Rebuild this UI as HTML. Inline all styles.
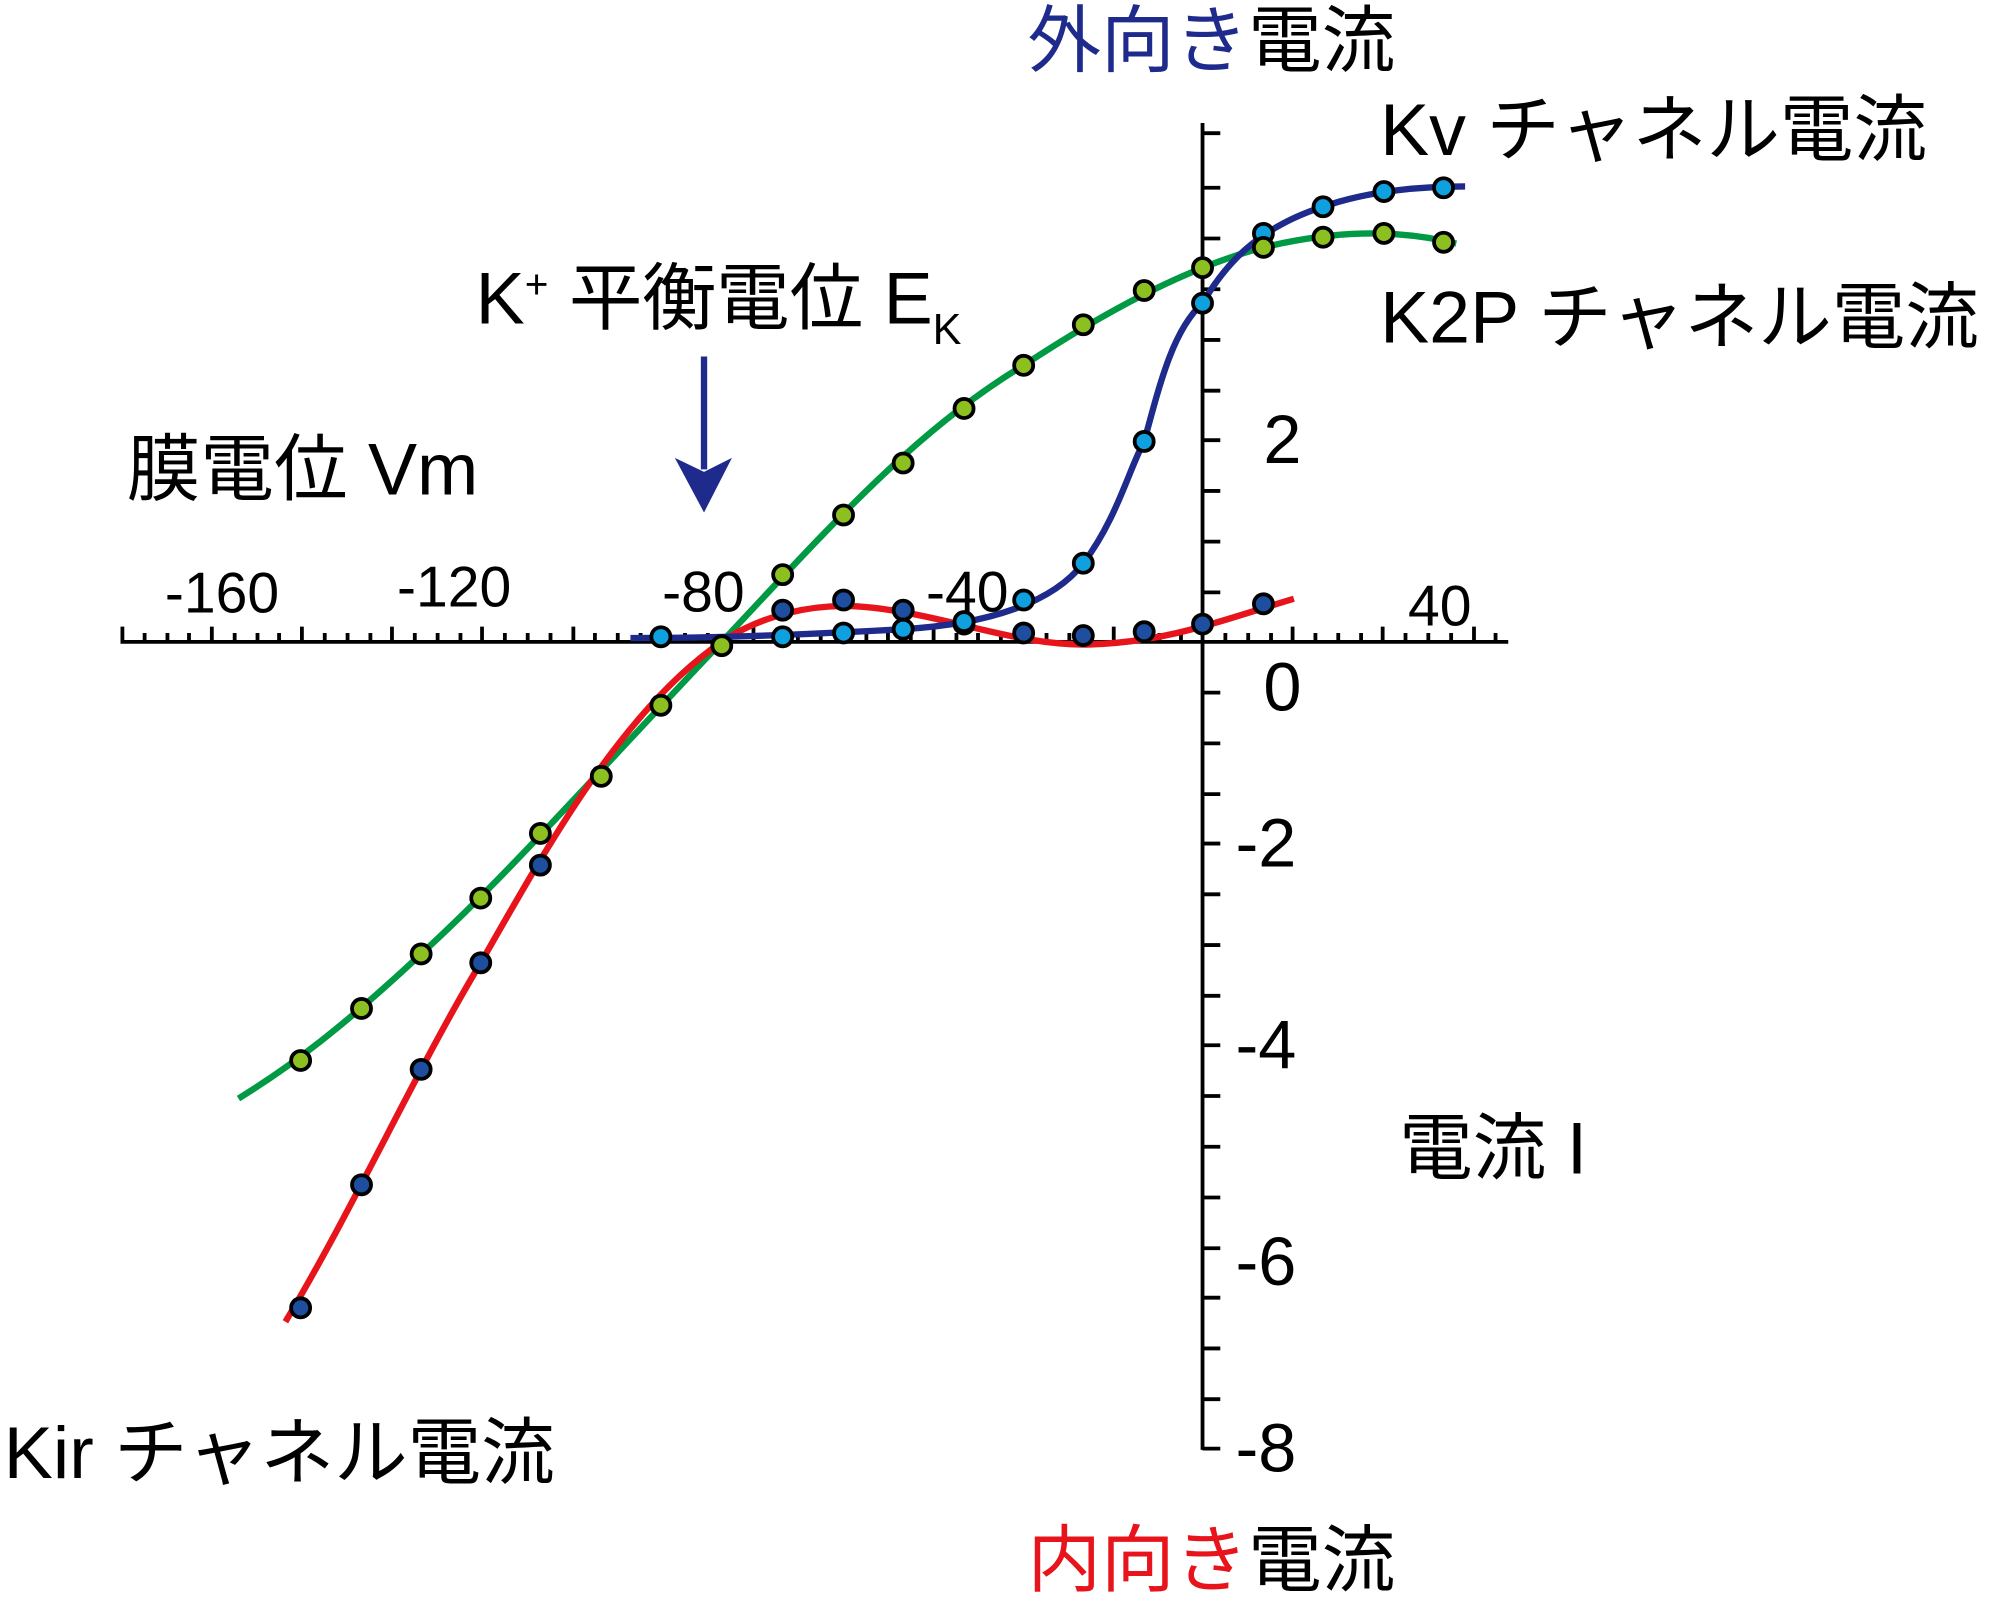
<!DOCTYPE html>
<html><head><meta charset="utf-8"><style>
html,body{margin:0;padding:0;background:#fff;}
svg{display:block;}
text{font-family:"Liberation Sans","Noto Sans CJK JP",sans-serif;}
</style></head><body>
<svg width="1989" height="1610" viewBox="0 0 1568 1269.2" preserveAspectRatio="none" xmlns="http://www.w3.org/2000/svg">
<g stroke="#000" stroke-width="3" fill="none">
<line x1="95" y1="506" x2="1189" y2="506"/>
<line x1="948" y1="97" x2="948" y2="1143"/>
<path d="M96.5 494V506 M114 499V506 M132 499V506 M149 499V506 M167 494V506 M185 499V506 M203 499V506 M220 499V506 M238 494V506 M256 499V506 M274 499V506 M292 499V506 M309 494V506 M327 499V506 M345 499V506 M363 499V506 M380 494V506 M398 499V506 M416 499V506 M434 499V506 M452 494V506 M469 499V506 M487 499V506 M505 499V506 M523 494V506 M540 499V506 M558 499V506 M576 499V506 M594 494V506 M612 499V506 M629 499V506 M647 499V506 M665 494V506 M683 499V506 M700 499V506 M718 499V506 M736 494V506 M754 499V506 M771 499V506 M789 499V506 M807 494V506 M825 499V506 M843 499V506 M860 499V506 M878 494V506 M896 499V506 M914 499V506 M931 499V506 M966 499V506 M984 499V506 M1002 499V506 M1019 494V506 M1037 499V506 M1055 499V506 M1073 499V506 M1090 494V506 M1108 499V506 M1126 499V506 M1144 499V506 M1162 494V506 M1179 499V506"/>
<path d="M948 105H962 M948 148H962 M948 188H962 M948 228H962 M948 268H962 M948 308H962 M948 347H962 M948 387H962 M948 427H962 M948 467H962 M948 546H962 M948 586H962 M948 626H962 M948 665H962 M948 705H962 M948 745H962 M948 785H962 M948 824H962 M948 864H962 M948 904H962 M948 944H962 M948 984H962 M948 1023H962 M948 1063H962 M948 1103H962 M948 1142H962"/>
</g>
<path d="M188 866 C230 840 270 810 332 752 C400 690 470 610 569 506 C650 420 720 340 807 288 C880 240 940 210 996 195 C1050 182 1100 180 1148 192" stroke="#009a44" stroke-width="5" fill="none"/>
<path d="M225 1042 C280 950 330 840 379 759 C430 670 490 560 569 506 C600 485 640 476 675 478 C740 482 800 510 860 508 C920 506 960 490 1020 472" stroke="#e8141c" stroke-width="5" fill="none"/>
<path d="M497 503 C560 503 620 501 712 496 C780 492 830 475 854 444 C880 410 890 370 902 348 C915 300 925 260 948 239 C965 210 990 180 1043 163 C1080 150 1120 147 1155 147" stroke="#1e2a8c" stroke-width="5" fill="none"/>
<g stroke="#000" stroke-width="3">
<g fill="#1e4ea0">
<circle cx="237" cy="1031" r="7.5"/><circle cx="285" cy="934" r="7.5"/><circle cx="332" cy="843" r="7.5"/><circle cx="379" cy="759" r="7.5"/><circle cx="426" cy="682" r="7.5"/><circle cx="617" cy="481" r="7.5"/><circle cx="665" cy="473" r="7.5"/><circle cx="712" cy="481" r="7.5"/><circle cx="760" cy="492" r="7.5"/><circle cx="807" cy="499" r="7.5"/><circle cx="854" cy="501" r="7.5"/><circle cx="902" cy="498" r="7.5"/><circle cx="948" cy="492" r="7.5"/><circle cx="996" cy="476" r="7.5"/>
</g>
<g fill="#0fa0e0">
<circle cx="521" cy="502" r="7.5"/><circle cx="617" cy="502" r="7.5"/><circle cx="665" cy="499" r="7.5"/><circle cx="712" cy="496" r="7.5"/><circle cx="760" cy="490" r="7.5"/><circle cx="807" cy="473" r="7.5"/><circle cx="854" cy="444" r="7.5"/><circle cx="902" cy="348" r="7.5"/><circle cx="948" cy="239" r="7.5"/><circle cx="996" cy="184" r="7.5"/><circle cx="1043" cy="163" r="7.5"/><circle cx="1091" cy="151" r="7.5"/><circle cx="1138" cy="148" r="7.5"/>
</g>
<g fill="#8cc021">
<circle cx="237" cy="836" r="7.5"/><circle cx="285" cy="795" r="7.5"/><circle cx="332" cy="752" r="7.5"/><circle cx="379" cy="708" r="7.5"/><circle cx="426" cy="657" r="7.5"/><circle cx="474" cy="612" r="7.5"/><circle cx="521" cy="556" r="7.5"/><circle cx="569" cy="509" r="7.5"/><circle cx="617" cy="453" r="7.5"/><circle cx="665" cy="406" r="7.5"/><circle cx="712" cy="365" r="7.5"/><circle cx="760" cy="322" r="7.5"/><circle cx="807" cy="288" r="7.5"/><circle cx="854" cy="256" r="7.5"/><circle cx="902" cy="229" r="7.5"/><circle cx="948" cy="211" r="7.5"/><circle cx="996" cy="195" r="7.5"/><circle cx="1043" cy="187" r="7.5"/><circle cx="1091" cy="184" r="7.5"/><circle cx="1138" cy="191" r="7.5"/>
</g>
</g>
<line x1="555" y1="281" x2="555" y2="370" stroke="#1e2a8c" stroke-width="5"/>
<path d="M532 361 L555 372 L577 361 L555 404 Z" fill="#1e2a8c"/>
<g font-size="45" fill="#000">
<text x="130" y="483">-160</text>
<text x="313" y="478">-120</text>
<text x="522" y="482">-80</text>
<text x="730" y="482">-40</text>
<text x="1110" y="493">40</text>
</g>
<g font-size="54" fill="#000" text-anchor="end">
<text x="1026" y="560">0</text>
<text x="1026" y="365">2</text>
<text x="1022" y="683">-2</text>
<text x="1022" y="842">-4</text>
<text x="1022" y="1013">-6</text>
<text x="1022" y="1160">-8</text>
</g>
<g font-size="58" fill="#000">
<text x="810" y="52"><tspan fill="#1e2a8c">外向き</tspan>電流</text>
<text x="810" y="1250"><tspan fill="#e8141c">内向き</tspan>電流</text>
<text x="1088" y="122">Kv チャネル電流</text>
<text x="1088" y="270">K2P チャネル電流</text>
<text x="375" y="255">K<tspan font-size="32" dy="-20">+</tspan><tspan dy="20"> 平衡電位 E</tspan><tspan font-size="34" dy="16">K</tspan></text>
<text x="100" y="390">膜電位 Vm</text>
<text x="1103" y="925">電流 I</text>
<text x="3" y="1165">Kir チャネル電流</text>
</g>
</svg>
</body></html>
